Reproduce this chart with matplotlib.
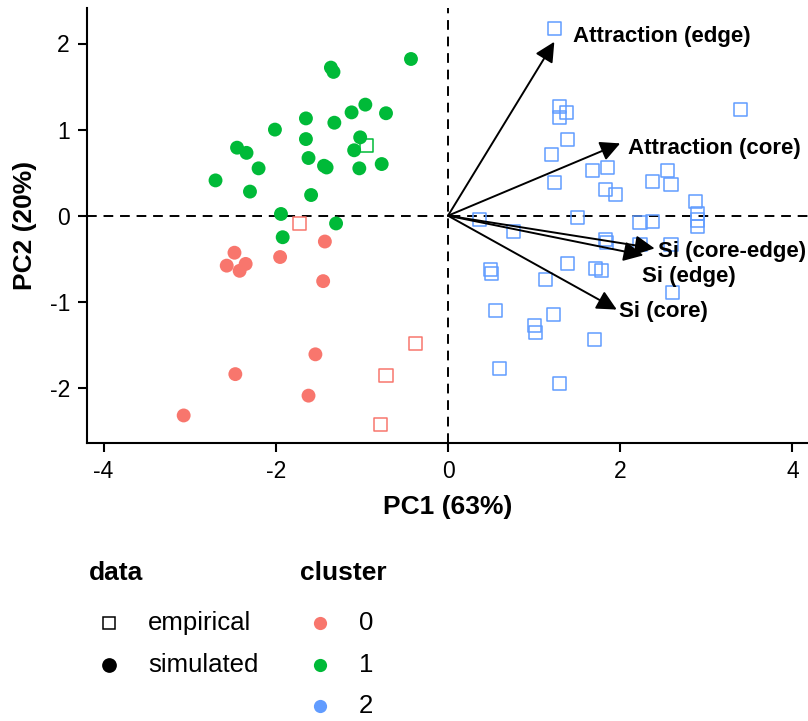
import numpy as np
import matplotlib.pyplot as plt
from matplotlib.lines import Line2D

plt.rcParams['font.family'] = ['Liberation Sans', 'DejaVu Sans']
plt.rcParams['axes.unicode_minus'] = False

# cluster colours (ggplot hue palette)
cluster_colors = {'0': '#F8766D', '1': '#00BA38', '2': '#619CFF'}

# simulated (filled circles)
sim0_x = [-1.43, -2.48, -2.57, -2.35, -2.42, -1.95, -1.45, -1.54, -2.47, -1.62, -3.07]
sim0_y = [-0.30, -0.43, -0.58, -0.56, -0.64, -0.48, -0.76, -1.61, -1.84, -2.09, -2.32]
sim1_x = [-0.43, -1.36, -1.33, -0.96, -1.12, -0.72, -1.65, -1.32, -2.01, -1.65, -1.02, -2.45, -2.34,
          -1.09, -2.20, -1.62, -1.44, -1.41, -1.03, -0.77, -2.70, -2.30, -1.59, -1.94, -1.30, -1.92]
sim1_y = [1.82, 1.72, 1.67, 1.29, 1.20, 1.19, 1.13, 1.08, 1.00, 0.89, 0.91, 0.79, 0.73,
          0.76, 0.55, 0.67, 0.58, 0.56, 0.55, 0.60, 0.41, 0.28, 0.24, 0.02, -0.09, -0.25]

# empirical (open squares)
emp0_x = [-1.72, -0.38, -0.72, -0.78]
emp0_y = [-0.09, -1.48, -1.86, -2.42]
emp1_x = [-0.95]
emp1_y = [0.82]
emp2_x = [1.24, 3.40, 1.29, 1.38, 1.29, 1.39, 1.20, 1.68, 1.85, 2.55, 2.38, 2.59, 1.24, 1.83,
          1.95, 2.87, 2.90, 2.90, 2.90, 0.37, 1.50, 2.23, 2.38, 0.76, 1.83, 1.84, 2.23, 2.59,
          0.49, 0.51, 1.39, 1.71, 1.78, 1.13, 2.61, 0.55, 1.22, 1.01, 1.02, 1.70, 0.60, 1.29]
emp2_y = [2.17, 1.23, 1.27, 1.20, 1.14, 0.89, 0.71, 0.52, 0.56, 0.52, 0.40, 0.36, 0.39, 0.30,
          0.25, 0.16, 0.03, -0.05, -0.12, -0.04, -0.02, -0.08, -0.07, -0.18, -0.28, -0.31, -0.34, -0.34,
          -0.63, -0.67, -0.55, -0.61, -0.64, -0.74, -0.89, -1.10, -1.15, -1.27, -1.36, -1.44, -1.78, -1.95]

# loadings
load_names = ['Attraction (edge)', 'Attraction (core)', 'Si (core-edge)', 'Si (edge)', 'Si (core)']
load_x = [1.235, 2.00, 2.40, 2.27, 1.96]
load_y = [2.02, 0.84, -0.38, -0.46, -1.09]
label_x = [1.45, 2.09, 2.44, 2.25, 1.99]
label_y = [2.08, 0.78, -0.42, -0.71, -1.115]

W, H = 808, 721
fig = plt.figure(figsize=(W / 100, H / 100), dpi=100)
ax_l, ax_r, ax_t, ax_b = 87.3, 808, 8, 442.7
ax = fig.add_axes([ax_l / W, 1 - ax_b / H, (ax_r - ax_l) / W, (ax_b - ax_t) / H])

ax.axhline(0, color='black', lw=1.4, ls=(0, (5, 3.5)), zorder=1)
ax.axvline(0, color='black', lw=1.4, ls=(0, (5, 3.5)), zorder=1)

ax.scatter(sim0_x, sim0_y, s=100, color=cluster_colors['0'], edgecolors='none', zorder=3)
ax.scatter(sim1_x, sim1_y, s=100, color=cluster_colors['1'], edgecolors='none', zorder=3)
ax.scatter(emp0_x, emp0_y, s=88, marker='s', facecolors='none', edgecolors=cluster_colors['0'],
           linewidths=1.1, zorder=3)
ax.scatter(emp1_x, emp1_y, s=88, marker='s', facecolors='none', edgecolors=cluster_colors['1'],
           linewidths=1.1, zorder=3)
ax.scatter(emp2_x, emp2_y, s=88, marker='s', facecolors='none', edgecolors=cluster_colors['2'],
           linewidths=1.1, zorder=3)

for nm, vx, vy, tx, ty in zip(load_names, load_x, load_y, label_x, label_y):
    ax.annotate('', xy=(vx, vy), xytext=(0, 0),
                arrowprops=dict(arrowstyle='-|>,head_length=0.6,head_width=0.3', color='black',
                                lw=1.4, shrinkA=0, shrinkB=0, mutation_scale=20), zorder=4)
    ax.text(tx, ty, nm, ha='left', va='center', fontsize=16, fontweight='bold', zorder=5)

ax.set_xlim((ax_l - 448) / 86.1, (ax_r - 448) / 86.1)
ax.set_ylim((215.7 - ax_b) / 86.1, (215.7 - ax_t) / 86.1)
ax.set_xticks([-4, -2, 0, 2, 4])
ax.set_yticks([-2, -1, 0, 1, 2])
for s in ['top', 'right']:
    ax.spines[s].set_visible(False)
for s in ['left', 'bottom']:
    ax.spines[s].set_linewidth(1.5)
ax.tick_params(length=6.5, width=1.5, labelsize=16.5, color='black', pad=6)

ax.set_xlabel('PC1 (63%)', fontsize=19, fontweight='bold')
ax.xaxis.set_label_coords(0.5, (ax_b - 507) / (ax_b - ax_t))
ax.xaxis.label.set_va('center')
ax.set_ylabel('PC2 (20%)', fontsize=19, fontweight='bold')
ax.yaxis.set_label_coords((25 - ax_l) / (ax_r - ax_l), 0.5)
ax.yaxis.label.set_va('center')

# legends, placed by pixel position below the panel
def fx(px):
    return px / W

def fy(py):
    return 1 - py / H

fig.text(fx(89), fy(573), 'data', fontsize=19, fontweight='bold', ha='left', va='center')
fig.text(fx(300), fy(573), 'cluster', fontsize=19, fontweight='bold', ha='left', va='center')

data_labels = ['empirical', 'simulated']
data_markers = ['s', 'o']
data_rows = [623, 665]
for lab, mk, py in zip(data_labels, data_markers, data_rows):
    fig.add_artist(Line2D([fx(109)], [fy(py)], marker=mk, ms=9 if mk == 's' else 9.5,
                          mfc='none' if mk == 's' else 'black', mec='black', mew=1.1, ls='none'))
    fig.text(fx(148), fy(py), lab, fontsize=18.5, ha='left', va='center')

cluster_labels = ['0', '1', '2']
cluster_rows = [623, 665, 706]
for lab, py in zip(cluster_labels, cluster_rows):
    fig.add_artist(Line2D([fx(320)], [fy(py)], marker='o', ms=9.5, mfc=cluster_colors[lab],
                          mec='none', ls='none'))
    fig.text(fx(359), fy(py), lab, fontsize=18.5, ha='left', va='center')

fig.savefig('out.png', dpi=100)
